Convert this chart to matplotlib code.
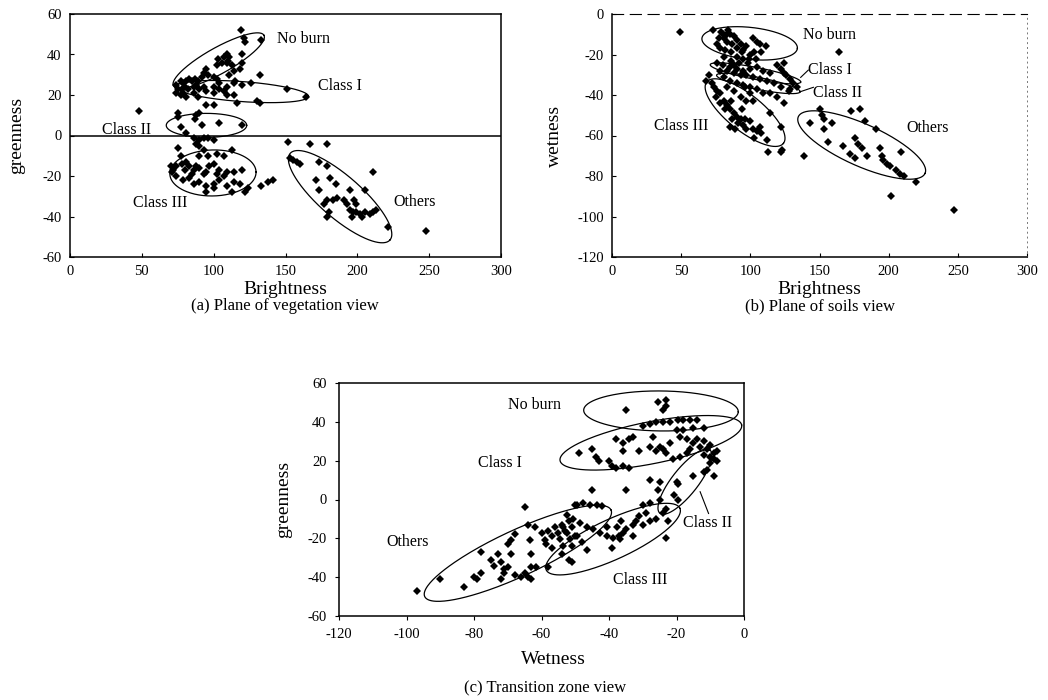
import numpy as np
import matplotlib
matplotlib.use("Agg")
import matplotlib.pyplot as plt

plt.rcParams['font.family'] = ['Liberation Serif', 'DejaVu Serif']
plt.rcParams['axes.unicode_minus'] = False

# ---------------- data: (a) Brightness vs greenness ----------------
a_pts = [
    (119, 52), (121, 48), (122, 46), (120, 40), (133, 47),
    (103, 38), (107, 39), (109, 40), (111, 39), (106, 36), (109, 36), (110, 37), (113, 35), (102, 35),
    (120, 36), (95, 33), (93, 31), (96, 30), (100, 29), (92, 29), (89, 27), (87, 28),
    (114, 32), (118, 33), (111, 30), (102, 28), (115, 27), (132, 30),
    (126, 26), (120, 25), (114, 26), (109, 24), (104, 26), (100, 24),
    (74, 25), (77, 27), (79, 26), (81, 27), (83, 28), (85, 27), (75, 23), (78, 23), (80, 24), (82, 23),
    (86, 24), (88, 25), (90, 23), (93, 24), (74, 21), (77, 20), (79, 21), (86, 21), (89, 19), (81, 19),
    (95, 22), (100, 21), (104, 23), (109, 20), (114, 20), (107, 22),
    (95, 15), (100, 15), (116, 16), (130, 17), (132, 16), (151, 23), (164, 19),
    (75, 11), (75, 9), (88, 10), (90, 11), (87, 8), (92, 5), (104, 6), (120, 5), (77, 4), (81, 1),
    (86, -1), (90, -2), (93, -1), (96, -1), (100, -2), (48, 12),
    (88, -4), (90, -5), (93, -7), (75, -6), (77, -10), (90, -10), (96, -10), (102, -9), (107, -10), (113, -7),
    (70, -15), (72, -17), (74, -15), (78, -14), (81, -13), (83, -15), (86, -17), (88, -15), (90, -16),
    (93, -19), (95, -18), (97, -15), (100, -14), (102, -19), (104, -17), (107, -20), (109, -18), (114, -18),
    (120, -17), (74, -20), (79, -22), (83, -21), (86, -24), (90, -23), (95, -25), (100, -24), (104, -22),
    (109, -25), (114, -23), (118, -24), (122, -28), (124, -26), (95, -28), (100, -26), (113, -28),
    (71, -18), (85, -19), (80, -17), (133, -25), (138, -23), (141, -22),
    (152, -3), (167, -4), (179, -4), (153, -11), (155, -12), (158, -13), (160, -14), (173, -13), (179, -15),
    (211, -18), (171, -22), (181, -21), (185, -24), (173, -27), (195, -27), (205, -27),
    (179, -32), (177, -34), (183, -32), (186, -31), (191, -32), (193, -34), (198, -32), (199, -34),
    (195, -37), (197, -38), (199, -38), (202, -39), (205, -38), (209, -39), (211, -38), (213, -37),
    (196, -40), (203, -40), (180, -38), (179, -40), (221, -45), (248, -47),
]
a_brightness = [p[0] for p in a_pts]
a_greenness = [p[1] for p in a_pts]

# ---------------- data: (b) Brightness vs wetness ----------------
b_pts = [
    (49, -9),
    (73, -8), (79, -9), (83, -10), (85, -10), (88, -11), (81, -12), (90, -13), (83, -14), (93, -15), (87, -15),
    (90, -17), (95, -18), (97, -16), (102, -12), (105, -14), (107, -15), (111, -16), (103, -19), (108, -19),
    (100, -20), (86, -19), (78, -17), (76, -15), (81, -21), (90, -21), (95, -22), (80, -10), (84, -8), (77, -12),
    (76, -24), (80, -25), (85, -26), (90, -27), (95, -28), (100, -27), (105, -26), (109, -28), (114, -29),
    (119, -25), (122, -27), (124, -29), (126, -30), (129, -32), (131, -34), (134, -36), (128, -38), (122, -36),
    (117, -34), (112, -33), (107, -32), (102, -31), (97, -30), (93, -30), (88, -29), (83, -28), (78, -28),
    (81, -31), (85, -33), (90, -34), (95, -35), (100, -36), (105, -37), (109, -39), (114, -39), (119, -41),
    (124, -44), (124, -24), (129, -37),
    (82, -18), (86, -23), (92, -24), (98, -24), (88, -25), (94, -19), (99, -22), (104, -22),
    (70, -30), (68, -33), (72, -34), (74, -36), (76, -38), (78, -39), (75, -41), (81, -43), (78, -44), (83, -45),
    (85, -47), (82, -47), (88, -49), (90, -51), (87, -52), (93, -52), (96, -52), (91, -54), (95, -55),
    (100, -53), (102, -57), (97, -57), (105, -58), (107, -56), (108, -59), (103, -61), (112, -62), (114, -49),
    (122, -56), (89, -57), (85, -56), (94, -47), (97, -43), (102, -43), (100, -39), (93, -41), (96, -36),
    (88, -38), (83, -36), (86, -43),
    (113, -68), (122, -68), (139, -70), (164, -19), (123, -67),
    (150, -47), (152, -50), (153, -52), (143, -54), (153, -57), (159, -54), (156, -63), (167, -65), (173, -48),
    (179, -47), (183, -53), (191, -57), (176, -61), (178, -64), (181, -66), (172, -69), (176, -71), (184, -70),
    (194, -66), (195, -70), (196, -72), (199, -74), (201, -75), (205, -77), (208, -79), (211, -80), (209, -68),
    (220, -83), (202, -90), (247, -97),
]
b_brightness = [p[0] for p in b_pts]
b_wetness = [p[1] for p in b_pts]

# ---------------- data: (c) Wetness vs greenness ----------------
c_pts = [
    (-97, -47), (-90, -41), (-83, -45),
    (-80, -40), (-79, -41), (-78, -38), (-78, -27), (-75, -31), (-74, -34), (-73, -28), (-72, -32), (-71, -36),
    (-71, -38), (-72, -41), (-70, -35), (-69, -28), (-70, -23), (-68, -18), (-69, -21), (-68, -39), (-66, -40),
    (-65, -38), (-64, -40), (-63, -35), (-63, -28), (-63.5, -21), (-61.5, -35), (-63, -41), (-65, -4),
    (-64, -13), (-62, -14), (-60, -17), (-59, -21), (-58, -16), (-57, -19), (-56, -14), (-55, -17), (-54, -13),
    (-53, -16), (-52, -11), (-51, -14), (-50, -19), (-58.6, -23), (-57, -25), (-54, -28), (-51, -24),
    (-52, -31), (-58, -35), (-50, -3),
    (-35, 46), (-25.5, 50), (-23, 51.5), (-24, 46), (-23, 48),
    (-30, 38), (-28, 39), (-26, 40), (-24, 40), (-22, 40), (-19.6, 41), (-18, 41), (-16, 41), (-14, 41),
    (-12, 37), (-15, 37), (-18, 36), (-20, 36), (-19, 32), (-17, 31), (-15, 29), (-13, 27), (-11, 26), (-9, 24),
    (-9, 21), (-10, 22), (-12, 23), (-14, 31), (-16, 26), (-17, 24), (-19, 22), (-21, 21), (-22, 29), (-24, 26),
    (-26, 25), (-28, 27), (-31, 25), (-33, 32), (-34, 31), (-36, 29), (-36, 25), (-38, 31), (-40, 20), (-39, 17),
    (-38, 16), (-36, 17), (-34, 16), (-43, 20), (-45, 26), (-49, 24), (-44, 22), (-27, 32), (-23, 24), (-25, 27),
    (-8, 25), (-10, 28), (-12, 30), (-10, 19), (-8, 20),
    (-28, 10), (-25, 9), (-25.5, 5), (-20, 9), (-19.6, 8), (-15, 12), (-11, 15), (-9, 12), (-12, 14),
    (-20.6, 2.5), (-19.6, 0), (-25, 0), (-28, -2), (-30, -3), (-23, -5), (-24, -7), (-22.5, -11), (-26, -10),
    (-29, -7), (-31, -8.5), (-32, -11), (-33, -13), (-35, -15), (-36, -17), (-37, -19), (-39, -25), (-33, -19),
    (-23, -20), (-28, -11), (-30, -13), (-45, 5), (-35, 5),
    (-49.6, -3), (-47.6, -2), (-45.6, -3), (-43.7, -3), (-42, -3.5), (-52.5, -8), (-50.6, -10), (-48.6, -12),
    (-46.6, -14), (-44.7, -15), (-42.7, -17), (-40.7, -19), (-38.7, -20), (-37.7, -14), (-36.3, -11),
    (-36.8, -20.5), (-40.7, -14), (-53.5, -14), (-52.5, -17), (-51.6, -20.5), (-49.6, -19), (-48, -22),
    (-46.6, -26), (-51, -32), (-54.5, -20.5), (-53.5, -24),
]
c_wetness = [p[0] for p in c_pts]
c_greenness = [p[1] for p in c_pts]

# class ellipses: (center, end of major axis) in data units
a_ellipses = {
    "No burn": ((103.5, 37), (135, 49.5)),
    "Class I": ((119.5, 21.7), (166, 19.3)),
    "Class II": ((95, 5), (123, 5)),
    "Class III": ((99.5, -18.5), (129.5, -18)),
    "Others": ((188, -30.2), (222.7, -51.6)),
}
b_ellipses = {
    "No burn": ((99.5, -14.5), (134, -17)),
    "Class I": ((103.7, -29.3), (136.4, -33.6)),
    "Class II": ((105.8, -34.3), (136, -38.4)),
    "Class III": ((96.2, -48.7), (123.9, -63.9)),
    "Others": ((180.5, -64.7), (226.3, -78.7)),
}
c_ellipses = {
    "No burn": ((-24.6, 45.6), (-1.7, 45.2)),
    "Class I": ((-27.6, 29.2), (-0.7, 38.4)),
    "Class II": ((-17.5, 9.2), (-10.1, 25.5)),
    "Class III": ((-38.8, -20.4), (-19, -4.5)),
    "Others": ((-67, -27.7), (-39.4, -5.4)),
}
a_minor = {"No burn": 13, "Class I": 10, "Class II": 12, "Class III": 23, "Others": 21}
b_minor = {"No burn": 16, "Class I": 6, "Class II": 6, "Class III": 18, "Others": 21}
c_minor = {"No burn": 20, "Class I": 21, "Class II": 13, "Class III": 20, "Others": 23}

a_labels = {"No burn": (144, 47.5), "Class I": (172.6, 24.4), "Class II": (22, 2.7),
            "Class III": (44, -33.2), "Others": (225, -32.7)}
b_labels = {"No burn": (138, -10.4), "Class I": (142, -27.7), "Class II": (145.3, -39.2),
            "Class III": (30, -55.3), "Others": (213, -56.5)}
c_labels = {"No burn": (-69.8, 48.7), "Class I": (-78.7, 18.6), "Others": (-105.9, -21.7),
            "Class III": (-38.7, -41.4), "Class II": (-18, -12.2)}

W, H = 1048, 700
fig = plt.figure(figsize=(W / 100, H / 100), dpi=100)


def px_axes(l, t, r, b):
    return fig.add_axes([l / W, 1 - b / H, (r - l) / W, (b - t) / H])


def draw_ellipse(ax, center, major_end, minor_px):
    c = ax.transData.transform(center)
    m = ax.transData.transform(major_end)
    u = m - c
    ud = u / np.hypot(*u)
    v = np.array([-ud[1], ud[0]]) * minor_px
    t = np.linspace(0, 2 * np.pi, 240)
    pts = c + np.outer(np.cos(t), u) + np.outer(np.sin(t), v)
    d = ax.transData.inverted().transform(pts)
    ax.plot(d[:, 0], d[:, 1], color='k', lw=0.9, zorder=3)


def style(ax, direction='in'):
    ax.tick_params(direction=direction, length=3, width=0.8, labelsize=10.5, pad=6)
    for s in ax.spines.values():
        s.set_linewidth(1.1)


mk = dict(marker='D', ms=4.2, color='k', ls='none', zorder=4, mew=0)
lab_fs = 11.5

# ---- (a)
ax = px_axes(70, 14, 501, 257)
ax.set_xlim(0, 300)
ax.set_ylim(-60, 60)
ax.set_xticks(range(0, 301, 50))
ax.set_yticks(range(-60, 61, 20))
style(ax)
ax.axhline(0, color='k', lw=1.1)
ax.plot(a_brightness, a_greenness, **mk)
for k, (c0, e0) in a_ellipses.items():
    draw_ellipse(ax, c0, e0, a_minor[k])
for k, (x0, y0) in a_labels.items():
    ax.text(x0, y0, k, fontsize=lab_fs, ha='left', va='center')
ax.set_xlabel("Brightness", fontsize=14)
ax.xaxis.set_label_coords(0.5, -0.098)
ax.set_ylabel("greenness", fontsize=14)
ax.yaxis.set_label_coords(-0.103, 0.5)
fig.text(285 / W, 1 - 306 / H, "(a) Plane of vegetation view", ha='center', va='center', fontsize=12)

# ---- (b)
ax = px_axes(612, 14, 1027, 257)
ax.set_xlim(0, 300)
ax.set_ylim(-120, 0)
ax.set_xticks(range(0, 301, 50))
ax.set_yticks(range(-120, 1, 20))
style(ax)
ax.spines['top'].set_linestyle((0, (10, 6)))
ax.spines['top'].set_linewidth(0.8)
ax.spines['right'].set_linestyle((0, (1, 4)))
ax.spines['right'].set_linewidth(0.7)
ax.spines['right'].set_color('#777777')
ax.plot(b_brightness, b_wetness, **mk)
for k, (c0, e0) in b_ellipses.items():
    draw_ellipse(ax, c0, e0, b_minor[k])
for k, (x0, y0) in b_labels.items():
    ax.text(x0, y0, k, fontsize=lab_fs, ha='left', va='center')
ax.plot([136.4, 141.9], [-31.3, -27.7], color='k', lw=0.8)
ax.plot([136, 145.6], [-38.4, -36.2], color='k', lw=0.8)
ax.set_xlabel("Brightness", fontsize=14)
ax.xaxis.set_label_coords(0.5, -0.098)
ax.set_ylabel("wetness", fontsize=14)
ax.yaxis.set_label_coords(-0.117, 0.5)
fig.text(820 / W, 1 - 306 / H, "(b) Plane of soils view", ha='center', va='center', fontsize=12)

# ---- (c)
ax = px_axes(339, 383, 744, 616)
ax.set_xlim(-120, 0)
ax.set_ylim(-60, 60)
ax.set_xticks(range(-120, 1, 20))
ax.set_yticks(range(-60, 61, 20))
style(ax, 'out')
ax.plot(c_wetness, c_greenness, **mk)
for k, (c0, e0) in c_ellipses.items():
    draw_ellipse(ax, c0, e0, c_minor[k])
for k, (x0, y0) in c_labels.items():
    ax.text(x0, y0, k, fontsize=lab_fs, ha='left', va='center')
ax.plot([-13, -10.5], [4, -7.2], color='k', lw=0.8)
ax.set_xlabel("Wetness", fontsize=14)
ax.xaxis.set_label_coords(0.53, -0.15)
ax.set_ylabel("greenness", fontsize=14)
ax.yaxis.set_label_coords(-0.115, 0.5)
fig.text(545 / W, 1 - 688 / H, "(c) Transition zone view", ha='center', va='center', fontsize=12)

fig.savefig("out.png", dpi=100)
